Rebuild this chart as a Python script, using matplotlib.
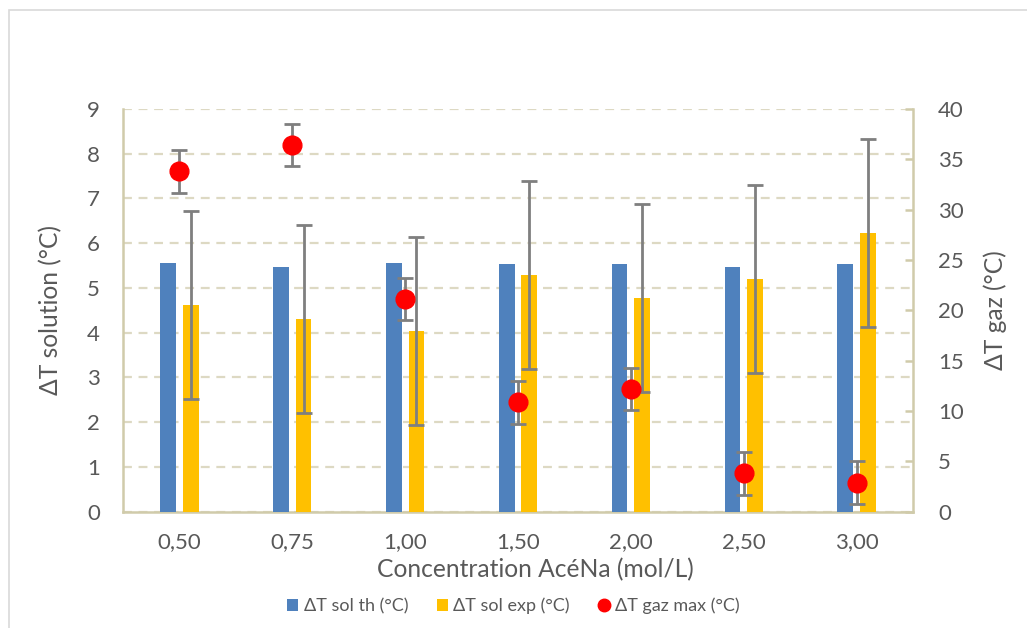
import matplotlib
matplotlib.use("Agg")
import matplotlib.pyplot as plt
from matplotlib.lines import Line2D
from matplotlib.patches import Patch, Rectangle
import numpy as np

plt.rcParams["font.family"] = ["Lato", "DejaVu Sans"]

concentrations = ["0,50", "0,75", "1,00", "1,50", "2,00", "2,50", "3,00"]
dt_sol_th = [5.55, 5.48, 5.55, 5.53, 5.54, 5.48, 5.54]
dt_sol_exp = [4.61, 4.30, 4.04, 5.28, 4.78, 5.21, 6.22]
dt_sol_exp_err = [2.1, 2.1, 2.1, 2.1, 2.1, 2.1, 2.1]
dt_gaz_max = [33.8, 36.4, 21.1, 10.85, 12.2, 3.8, 2.9]
dt_gaz_max_err = [2.1, 2.1, 2.1, 2.1, 2.1, 2.1, 2.1]

BLUE = "#4F81BD"
YELLOW = "#FFC000"
RED = "#FF0000"
ERR = "#7F7F7F"
AXIS = "#D0CBAA"
GRID = "#DDD9C3"
TXT = "#595959"

x = np.arange(len(concentrations))
w = 0.14
off = 0.1

fig = plt.figure(figsize=(10.27, 6.28), dpi=100)
fig.patches.append(Rectangle((9 / 1027, -0.01), 1.02, 1 - 10 / 628 + 0.01,
                             transform=fig.transFigure, fill=False,
                             edgecolor="#D9D9D9", linewidth=1.2))

ax = fig.add_axes([123 / 1027, 1 - 511.7 / 628, (913 - 123) / 1027, (511.7 - 109) / 628])
ax2 = ax.twinx()

ax.bar(x - off, dt_sol_th, width=w, color=BLUE, zorder=3)
ax.bar(x + off, dt_sol_exp, width=w, color=YELLOW, zorder=3)
ax.errorbar(x + off, dt_sol_exp, yerr=dt_sol_exp_err, fmt="none", ecolor=ERR,
            elinewidth=2, capsize=6, capthick=2, zorder=4)

ax2.errorbar(x, dt_gaz_max, yerr=dt_gaz_max_err, fmt="none", ecolor=ERR,
             elinewidth=2, capsize=6, capthick=2, zorder=4)
ax2.plot(x, dt_gaz_max, "o", color=RED, markersize=13.5, zorder=5)

ax.set_xlim(-0.5, len(concentrations) - 0.5)
ax.set_ylim(0, 9)
ax.set_yticks(range(0, 10))
ax2.set_ylim(0, 40)
ax2.set_yticks(range(0, 41, 5))
ax.set_xticks(x)
ax.set_xticklabels(concentrations)

ax.grid(axis="y", color=GRID, linestyle=(0, (4, 3)), linewidth=1.6, zorder=0)
ax.set_axisbelow(True)

for a in (ax, ax2):
    for s in a.spines.values():
        s.set_visible(False)
ax.spines["left"].set_visible(True)
ax.spines["bottom"].set_visible(True)
ax2.spines["right"].set_visible(True)
for s in (ax.spines["left"], ax.spines["bottom"], ax2.spines["right"]):
    s.set_color(AXIS)
    s.set_linewidth(1.8)

ax.tick_params(axis="y", length=0, pad=16.5, labelsize=16, labelcolor=TXT)
ax.tick_params(axis="x", length=0, pad=15, labelsize=16, labelcolor=TXT)
ax2.tick_params(axis="y", direction="in", length=6, width=1.8, color=AXIS,
                pad=18, labelsize=16, labelcolor=TXT)

ax.set_xlabel("Concentration AcéNa (mol/L)", fontsize=17.7, color=TXT, labelpad=4)
ax.xaxis.label.set_x(0.522)
ax.set_ylabel("ΔT solution (°C)", fontsize=17.7, color=TXT, labelpad=18)
ax2.set_ylabel("ΔT gaz (°C)", fontsize=17.7, color=TXT, rotation=90, labelpad=14.5)

handles = [
    Patch(facecolor=BLUE, label="ΔT sol th (°C)"),
    Patch(facecolor=YELLOW, label="ΔT sol exp (°C)"),
    Line2D([], [], marker="o", linestyle="none", color=RED, markersize=9,
           label="ΔT gaz max (°C)"),
]
fig.legend(handles=handles, loc="center", bbox_to_anchor=(0.5, 1 - 606 / 628),
           ncol=3, frameon=False, fontsize=13, labelcolor=TXT,
           handlelength=0.6, handleheight=0.6, handletextpad=0.3, columnspacing=1.6)

fig.savefig("out.png", dpi=100, facecolor="white")
